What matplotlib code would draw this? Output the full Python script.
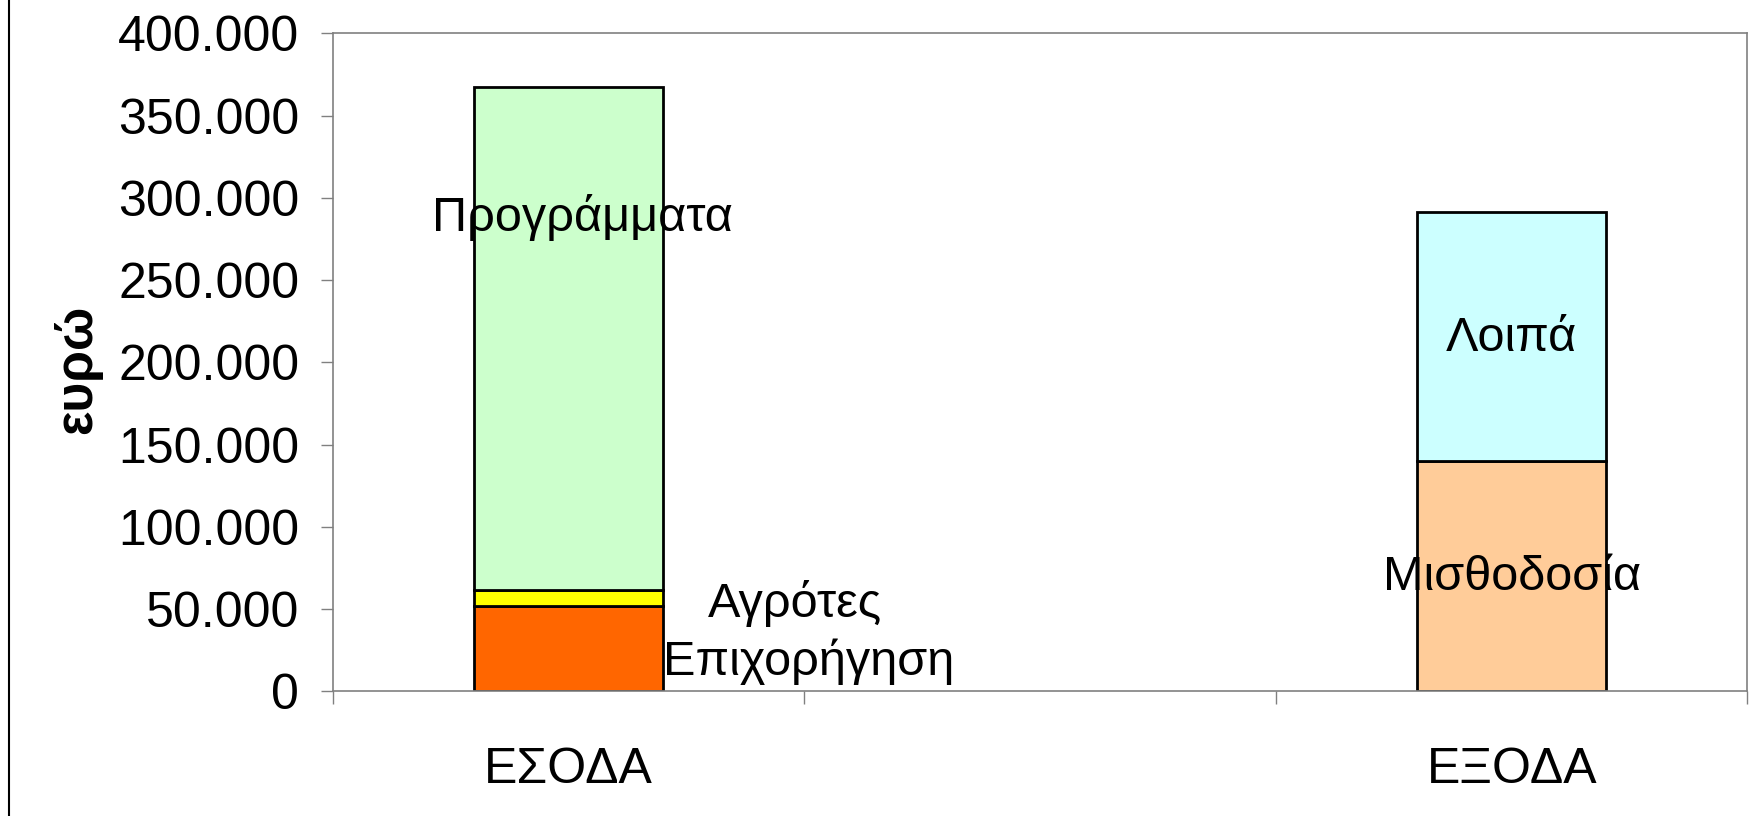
import matplotlib
matplotlib.use('Agg')
import matplotlib.pyplot as plt
from matplotlib.ticker import FuncFormatter
import numpy

plt.rcParams['font.family'] = ['Liberation Sans', 'DejaVu Sans']

categories = ['ΕΣΟΔΑ', '', 'ΕΞΟΔΑ']

# income segments (bottom to top)
income_labels = ['Επιχορήγηση', 'Αγρότες', 'Προγράμματα']
income_values = [51600, 10200, 305600]
income_colors = ['#FF6600', '#FFFF00', '#CCFFCC']

# expense segments (bottom to top)
expense_labels = ['Μισθοδοσία', 'Λοιπά']
expense_values = [139900, 151400]
expense_colors = ['#FFCC99', '#CCFFFF']

# where the data labels sit (x offset from bar centre, y value)
income_label_pos = [(0.51, 17600), (0.48, 53600), (0.03, 288000)]
expense_label_pos = [(0.0, 69300), (0.0, 214600)]

def thousands(v, pos):
    return '{:,.0f}'.format(v).replace(',', '.')

fig = plt.figure(figsize=(17.51, 8.16), dpi=100)
ax = fig.add_axes([0.190, 0.153, 0.808, 0.806])

x = numpy.arange(len(categories))
bottom = 0
for val, col in zip(income_values, income_colors):
    ax.bar(x[0], val, width=0.4, bottom=bottom, color=col, edgecolor='black', linewidth=2)
    bottom += val
bottom = 0
for val, col in zip(expense_values, expense_colors):
    ax.bar(x[2], val, width=0.4, bottom=bottom, color=col, edgecolor='black', linewidth=2)
    bottom += val

for lab, (dx, y) in zip(income_labels, income_label_pos):
    ax.text(x[0] + dx, y, lab, ha='center', va='center', fontsize=35)
for lab, (dx, y) in zip(expense_labels, expense_label_pos):
    ax.text(x[2] + dx, y, lab, ha='center', va='center', fontsize=35)

ax.set_xlim(-0.5, 2.5)
ax.set_ylim(0, 400000)
ax.set_yticks(range(0, 400001, 50000))
ax.yaxis.set_major_formatter(FuncFormatter(thousands))
ax.tick_params(axis='y', labelsize=36, length=9, width=1, color='#808080', pad=15)

ax.set_xticks([-0.5, 0.5, 1.5, 2.5])
ax.set_xticklabels([])
ax.tick_params(axis='x', which='major', length=9, width=1, color='#808080', direction='out')
ax.set_xticks([0, 2], minor=True)
ax.set_xticklabels([categories[0], categories[2]], minor=True)
ax.tick_params(axis='x', which='minor', length=0, labelsize=36, pad=40)

for s in ax.spines.values():
    s.set_color('#808080')
    s.set_linewidth(1.2)

ax.set_ylabel('ευρώ', fontsize=37, fontweight='bold')
ax.yaxis.set_label_coords(-0.163, 0.49)

# left border of the chart area
fig.add_artist(plt.Line2D([0.005, 0.005], [0, 1], color='black', linewidth=1.5))

fig.savefig('out.png', dpi=100)
